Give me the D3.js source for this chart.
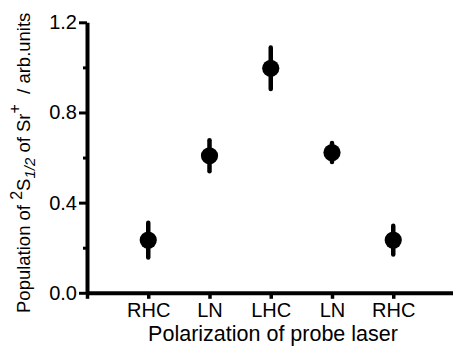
<!DOCTYPE html>
<html>
<head>
<meta charset="utf-8">
<script src="https://cdn.jsdelivr.net/npm/d3@7"></script>
<style>
  body { margin: 0; background: #fff; }
  text { font-family: "Liberation Sans", Arial, sans-serif; fill: #000; }
</style>
</head>
<body>
<script>
// data
var categories = ["RHC", "LN", "LHC", "LN", "RHC"];
var population = [0.234, 0.608, 0.996, 0.622, 0.234];
var errors = [0.077, 0.069, 0.092, 0.042, 0.064];
var yMajor = [0, 0.4, 0.8, 1.2];
var yMinor = [0.2, 0.6, 1.0];

var width = 453, height = 353;

var svg = d3.select("body").append("svg").attr("width", width).attr("height", height);

var x = d3.scaleLinear().domain([0, 6]).range([87, 454.5]);
var y = d3.scaleLinear().domain([0, 1.2]).range([292.8, 22.3]);

// x axis
var xAxis = svg.append("g")
    .attr("transform", "translate(0," + y(0) + ")")
    .call(d3.axisBottom(x)
      .tickValues([0, 1, 2, 3, 4, 5])
      .tickFormat(d => categories[d - 1] || "")
      .tickSize(6)
      .tickSizeOuter(0));
xAxis.select(".domain").attr("stroke-width", 4);
xAxis.selectAll(".tick line").attr("stroke-width", 3.5);
xAxis.selectAll(".tick text").attr("font-size", 20).attr("y", 10).attr("dy", "0.71em");

// y axis, minor ticks first
var yMinorAxis = svg.append("g")
    .attr("transform", "translate(" + x(0) + ",0)")
    .call(d3.axisLeft(y).tickValues(yMinor).tickFormat("").tickSize(4).tickSizeOuter(0));
yMinorAxis.select(".domain").remove();
yMinorAxis.selectAll(".tick line").attr("stroke-width", 3);

var yAxis = svg.append("g")
    .attr("transform", "translate(" + x(0) + ",0)")
    .call(d3.axisLeft(y)
      .tickValues(yMajor)
      .tickFormat(d3.format(".1f"))
      .tickSize(8)
      .tickSizeOuter(0));
yAxis.select(".domain").attr("stroke-width", 4);
yAxis.selectAll(".tick line").attr("stroke-width", 3);
yAxis.selectAll(".tick text").attr("font-size", 20).attr("x", -10);

// error bars
svg.append("g").selectAll("line")
  .data(population)
  .join("line")
    .attr("x1", (d, i) => x(i + 1))
    .attr("x2", (d, i) => x(i + 1))
    .attr("y1", (d, i) => y(d + errors[i]))
    .attr("y2", (d, i) => y(d - errors[i]))
    .attr("stroke", "#000")
    .attr("stroke-width", 4.5)
    .attr("stroke-linecap", "round");

// points
svg.append("g").selectAll("circle")
  .data(population)
  .join("circle")
    .attr("cx", (d, i) => x(i + 1))
    .attr("cy", d => y(d))
    .attr("r", 8.6)
    .attr("fill", "#000");

// axis titles
svg.append("text")
    .attr("x", 273)
    .attr("y", 341)
    .attr("text-anchor", "middle")
    .attr("font-size", 21.5)
    .text("Polarization of probe laser");

var yt = svg.append("text")
    .attr("transform", "translate(29.5,313) rotate(-90)")
    .attr("font-size", 18.5);
yt.append("tspan").text("Population of ");
yt.append("tspan").attr("font-size", 16).attr("dy", -8).text("2");
yt.append("tspan").attr("dy", 8).text("S");
yt.append("tspan").attr("font-size", 15).attr("font-style", "italic").attr("dy", 5).text("1/2");
yt.append("tspan").attr("dy", -5).text(" of Sr");
yt.append("tspan").attr("font-size", 16).attr("dy", -10).text("+");
yt.append("tspan").attr("dy", 10).text("\u00a0\u00a0/ arb.units");
</script>
</body>
</html>
